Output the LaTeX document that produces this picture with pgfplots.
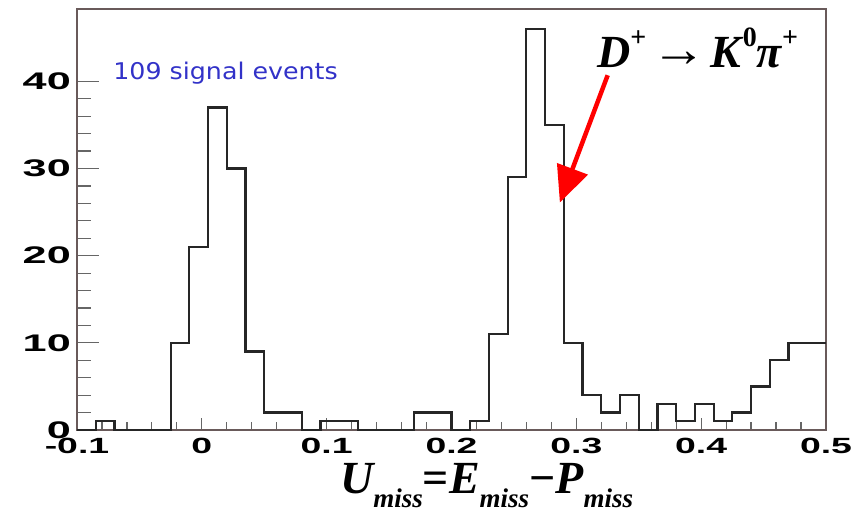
\documentclass[border=0pt]{standalone}
\usepackage{pgfplots}
\pgfplotsset{compat=1.18}
\usepackage{fontspec}
\usepackage{graphicx}
\setmainfont{Liberation Serif}
\setsansfont{Liberation Sans}
\newfontfamily\djv{DejaVu Sans}
\usetikzlibrary{arrows.meta}
\definecolor{framec}{RGB}{105,90,90}
\definecolor{txtblue}{RGB}{50,50,200}
\begin{document}
\begin{tikzpicture}
\begin{axis}[name=ax, scale only axis, width=749pt, height=421pt,
  xmin=-0.1, xmax=0.5, ymin=0, ymax=48.3, clip=false,
  axis line style={framec, line width=1.6pt},
  tick pos=left, tick align=inside,
  xtick={-0.1,0,0.1,0.2,0.3,0.4,0.5}, minor x tick num=4,
  ytick={0,10,20,30,40}, minor y tick num=4,
  major tick length=22pt, minor tick length=14pt,
  major x tick style={/pgfplots/major tick length=12pt},
  minor x tick style={/pgfplots/minor tick length=8pt},
  tick style={black!60, line width=1.2pt},
  every tick label/.append style={font=\sffamily\bfseries\fontsize{24}{24}\selectfont},
  xticklabel={\scalebox{1.7}[1]{\pgfmathprintnumber[assume math mode=true]{\tick}}},
  yticklabel={\scalebox{1.8}[1]{\pgfmathprintnumber[assume math mode=true]{\tick}}},
  xticklabel style={font=\sffamily\bfseries\fontsize{22}{22}\selectfont, inner sep=1pt, yshift=-7pt},
  yticklabel style={inner sep=1pt, xshift=-5pt},
]
\addplot[const plot, line width=2.2pt, black!85] coordinates {
(-0.1,0) (-0.085,1) (-0.07,0) (-0.055,0) (-0.04,0) (-0.025,10) (-0.01,21)
(0.005,37) (0.02,30) (0.035,9) (0.05,2) (0.065,2) (0.08,0) (0.095,1) (0.11,1)
(0.125,0) (0.14,0) (0.155,0) (0.17,2) (0.185,2) (0.2,0) (0.215,1) (0.23,11)
(0.245,29) (0.26,46) (0.275,35) (0.29,10) (0.305,4) (0.32,2) (0.335,4) (0.35,0)
(0.365,3) (0.38,1) (0.395,3) (0.41,1) (0.425,2) (0.44,5) (0.455,8) (0.47,10)
(0.485,10) (0.5,10)};
\node[anchor=base west, font=\djv\fontsize{23}{23}\selectfont, text=txtblue, inner sep=0pt] at (axis cs:-0.071,40.25) {\scalebox{1.1}[1]{109 signal events}};
\node[anchor=base west, font=\bfseries\itshape\fontsize{46}{46}\selectfont, inner sep=0pt] at (axis cs:0.3166,41.6)
  {D\raisebox{0.45em}{\fontsize{28}{28}\selectfont\upshape +}\hspace{0.12em}\raisebox{0.02em}{\scalebox{1.2}[1.1]{\mdseries\upshape →}}\hspace{0.08em}K\hspace{0.03em}\raisebox{0.45em}{\fontsize{28}{28}\selectfont\upshape 0}π\raisebox{0.45em}{\fontsize{28}{28}\selectfont\upshape +}};
\draw[red, line width=4.5pt, -{Triangle[length=36pt,width=32pt]}] (axis cs:0.3251,40.7) -- (axis cs:0.2868,26.1);
\node[anchor=base west, font=\bfseries\itshape\fontsize{46}{46}\selectfont, inner sep=0pt] at (axis description cs:0.351,-0.152)
  {U\raisebox{-0.3em}{\fontsize{27}{27}\selectfont miss}{\upshape =}E\raisebox{-0.3em}{\fontsize{27}{27}\selectfont miss}{\upshape −}P\raisebox{-0.3em}{\fontsize{27}{27}\selectfont miss}};
\end{axis}
\pgfresetboundingbox
\useasboundingbox ([xshift=-77pt,yshift=-89pt]ax.south west) rectangle ++(863pt,519pt);
\end{tikzpicture}
\end{document}
